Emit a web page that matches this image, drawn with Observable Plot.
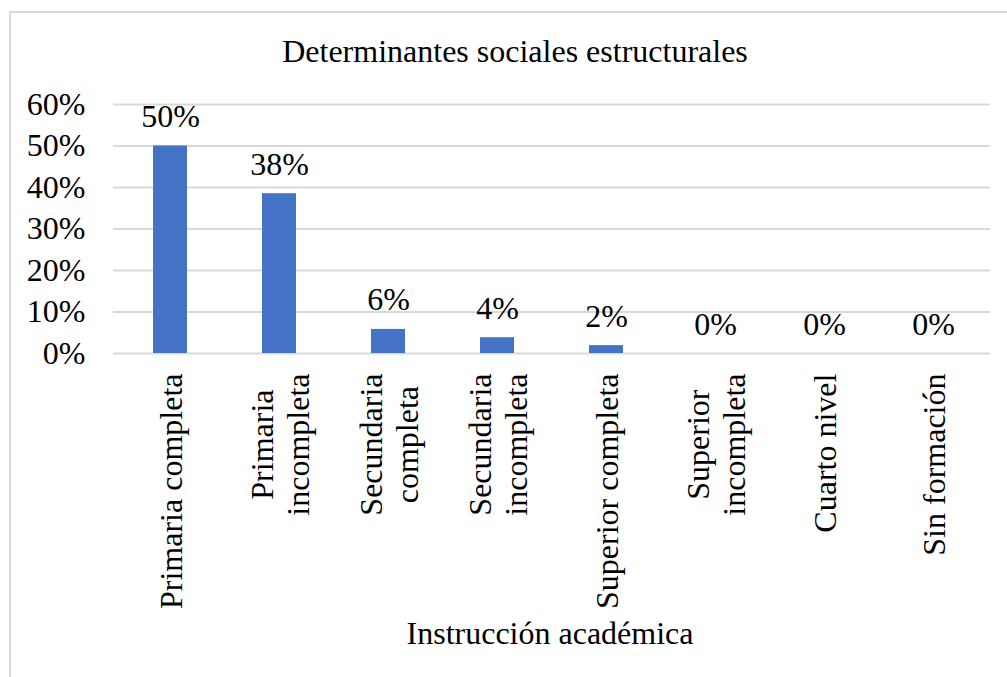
<!DOCTYPE html>
<html>
<head>
<meta charset="utf-8">
<script src="https://cdn.jsdelivr.net/npm/d3@7"></script>
<script src="https://cdn.jsdelivr.net/npm/@observablehq/plot@0.6"></script>
<style>
  html, body { margin: 0; padding: 0; background: #fff; overflow: hidden; width: 1007px; height: 677px; }
  #wrap { position: relative; width: 1007px; height: 677px; font-family: 'Liberation Serif', 'Times New Roman', serif; color: #000; }
  #chart { position: absolute; left: 0; top: 0; }
  .title { position: absolute; left: 15px; width: 1000px; text-align: center; font-size: 32px; line-height: 32px; white-space: nowrap; font-family: 'Liberation Serif', 'Times New Roman', serif; }
  #frame { position: absolute; left: 9px; top: 11px; width: 1100px; height: 800px; border: 2px solid #d9d9d9; box-sizing: border-box; pointer-events: none; }
  #chart svg, #chart svg text { font-family: 'Liberation Serif', 'Times New Roman', serif !important; }
</style>
</head>
<body>
<div id="wrap">
  <div id="chart"></div>
  <div class="title" id="title" style="top:35px;"></div>
  <div class="title" id="xtitle" style="top:617px; left:50px;"></div>
  <div id="frame"></div>
</div>
<script>
const chartTitle = "Determinantes sociales estructurales";
const xAxisTitle = "Instrucción académica";
const categories = [
  "Primaria completa",
  "Primaria\nincompleta",
  "Secundaria\ncompleta",
  "Secundaria\nincompleta",
  "Superior completa",
  "Superior\nincompleta",
  "Cuarto nivel",
  "Sin formación"
];
const values = [50, 38.5, 5.8, 3.8, 1.9, 0, 0, 0];
const valueLabels = ["50%", "38%", "6%", "4%", "2%", "0%", "0%", "0%"];
const yTicks = [0, 10, 20, 30, 40, 50, 60];
const yTickLabels = ["0%", "10%", "20%", "30%", "40%", "50%", "60%"];

const data = categories.map((c, i) => ({category: c, value: values[i], label: valueLabels[i]}));

document.getElementById("title").textContent = chartTitle;
document.getElementById("xtitle").textContent = xAxisTitle;

const fontFamily = "Liberation Serif";
const fs = 32;

const svg = Plot.plot({
  width: 1007,
  height: 677,
  marginLeft: 113,
  marginRight: 17,
  marginTop: 104,
  marginBottom: 324,
  style: {fontFamily, fontSize: fs + "px", color: "#000", background: "transparent", overflow: "visible"},
  x: {domain: categories, paddingInner: 0.69, paddingOuter: 0.345, axis: null},
  y: {domain: [0, 60], axis: null},
  marks: [
    Plot.gridY(yTicks, {stroke: "#d9d9d9", strokeOpacity: 1, strokeWidth: 2}),
    Plot.axisY(yTicks, {
      tickSize: 0,
      tickPadding: 28,
      fontSize: fs,
      fontFamily,
      tickFormat: d => yTickLabels[yTicks.indexOf(d)],
      label: null
    }),
    Plot.barY(data, {x: "category", y: "value", fill: "#4472C4"}),
    Plot.text(data, {
      x: "category",
      y: "value",
      text: "label",
      lineAnchor: "bottom",
      dy: -19,
      fontSize: fs,
      fontFamily,
      fill: "#000"
    }),
    Plot.text(categories, {
      x: d => d,
      text: d => d,
      frameAnchor: "bottom",
      rotate: -90,
      textAnchor: "middle",
      lineAnchor: "middle",
      lineHeight: 1.13,
      dy: 20,
      fontSize: fs,
      fontFamily,
      fill: "#000"
    })
  ]
});

document.getElementById("chart").appendChild(svg);

// Excel-style: lines centred on each other, block's far end at the axis offset
const textGroups = svg.querySelectorAll('g[aria-label="text"]');
const catGroup = textGroups[textGroups.length - 1];
catGroup.querySelectorAll("text").forEach(el => {
  const w = el.getBBox().width;
  const t = el.getAttribute("transform") || "";
  el.setAttribute("transform", `translate(0,${w / 2}) ` + t);
});
</script>
</body>
</html>
